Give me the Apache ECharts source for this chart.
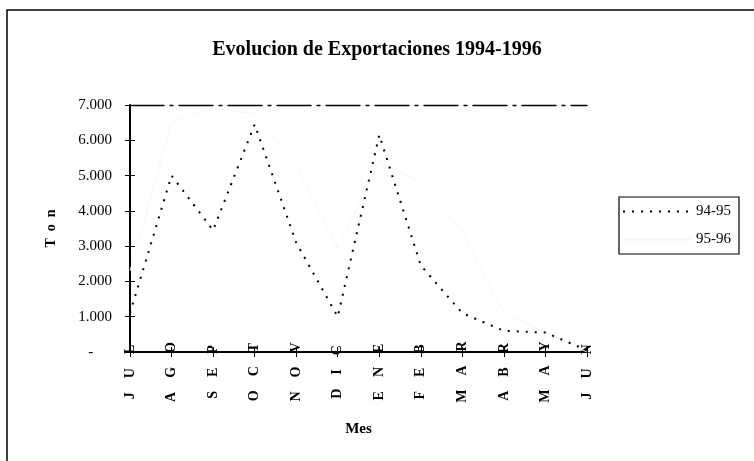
<!DOCTYPE html>
<html>
<head>
<meta charset="utf-8">
<script src="https://cdn.jsdelivr.net/npm/echarts@6/dist/echarts.min.js"></script>
<style>html,body{margin:0;padding:0;background:#fff;}#c{width:754px;height:461px;}</style>
</head>
<body>
<div id="c"></div>
<script>
const months = ['JUL','AGO','SEP','OCT','NOV','DIC','ENE','FEB','MAR','ABR','MAY','JUN'];
const s9495 = [1100, 5000, 3450, 6450, 3100, 1000, 6150, 2450, 1100, 600, 550, 50];
const s9596 = [2300, 6500, 6900, 6750, 5300, 2950, 5400, 4800, 3400, 1100, 550, 0];
const yTicks = [0, 1000, 2000, 3000, 4000, 5000, 6000, 7000];

const FONT = "'Liberation Serif', 'Times New Roman', serif";
function fmt(v){ return v === 0 ? '-     ' : String(v).replace(/\B(?=(\d{3})+(?!\d))/g, '.'); }

const chart = echarts.init(document.getElementById('c'));
chart.setOption({
  animation: false,
  backgroundColor: '#fff',
  title: {
    text: 'Evolucion de Exportaciones 1994-1996',
    left: 'center', top: 35,
    textStyle: { fontFamily: FONT, fontSize: 20, fontWeight: 'bold', color: '#000' }
  },
  legend: {
    orient: 'vertical', left: 619, top: 197,
    padding: [7, 8, 7, 3],
    borderColor: '#000', borderWidth: 1.2,
    itemWidth: 68, itemHeight: 12, itemGap: 13,
    itemStyle: { opacity: 0 },
    textStyle: { fontFamily: FONT, fontSize: 15, color: '#000', padding: [0, 0, 0, 0] },
    data: ['94-95', '95-96']
  },
  grid: { left: 130, right: 167, top: 105, bottom: 109, containLabel: false },
  xAxis: [
    {
      type: 'category', data: months, boundaryGap: false, position: 'bottom',
      name: 'Mes', nameLocation: 'middle', nameGap: 70,
      nameTextStyle: { fontFamily: FONT, fontSize: 15, fontWeight: 'bold', color: '#000' },
      axisLine: { lineStyle: { color: '#000', width: 2 } },
      axisTick: { show: true, length: 5, lineStyle: { color: '#000', width: 1 } },
      axisLabel: {
        interval: 0, rotate: 90, align: 'center', verticalAlign: 'middle', margin: 20,
        fontFamily: FONT, fontSize: 14, fontWeight: 'bold', color: '#000',
        formatter: v => v.split('').join('    ')
      },
      splitLine: { show: false }
    },
    {
      type: 'category', data: months, boundaryGap: false, position: 'bottom',
      axisLine: { show: false },
      axisTick: { show: true, inside: true, length: 5, lineStyle: { color: '#000', width: 1 } },
      axisLabel: { show: false }, splitLine: { show: false }
    },
    {
      type: 'category', data: months, boundaryGap: false, position: 'top',
      axisLine: { show: true, lineStyle: { color: '#000', width: 1.3, type: [34, 6, 3, 6] } },
      axisTick: { show: false }, axisLabel: { show: false }, splitLine: { show: false }
    }
  ],
  yAxis: [
    {
      type: 'value', min: 0, max: 7000, interval: 1000,
      name: 'T  o  n', nameLocation: 'middle', nameGap: 72, nameRotate: 90,
      nameTextStyle: { fontFamily: FONT, fontSize: 14, fontWeight: 'bold', color: '#000' },
      axisLine: { show: true, lineStyle: { color: '#000', width: 2 } },
      axisTick: { show: true, length: 5, lineStyle: { color: '#000', width: 1 } },
      axisLabel: { fontFamily: FONT, fontSize: 15, color: '#000', margin: 18, formatter: fmt },
      splitLine: { show: false }
    },
    {
      type: 'value', min: 0, max: 7000, interval: 1000, position: 'left',
      axisLine: { show: false },
      axisTick: { show: true, inside: true, length: 5, lineStyle: { color: '#000', width: 1 } },
      axisLabel: { show: false }, splitLine: { show: false }
    }
  ],
  graphic: [
    { type: 'rect', silent: true, shape: { x: 7, y: 10, width: 800, height: 500 },
      style: { fill: 'none', stroke: '#000', lineWidth: 1.5 } }
  ],
  series: [
    {
      name: '94-95', type: 'line', data: s9495, symbol: 'none', z: 5,
      lineStyle: { color: '#000', width: 2, type: [2, 7] },
      itemStyle: { color: '#000' }
    },
    {
      name: '95-96', type: 'line', data: s9596, symbol: 'none', z: 3,
      lineStyle: { color: '#f6f6f6', width: 1 },
      itemStyle: { color: '#f6f6f6' }
    }
  ]
});
</script>
</body>
</html>
